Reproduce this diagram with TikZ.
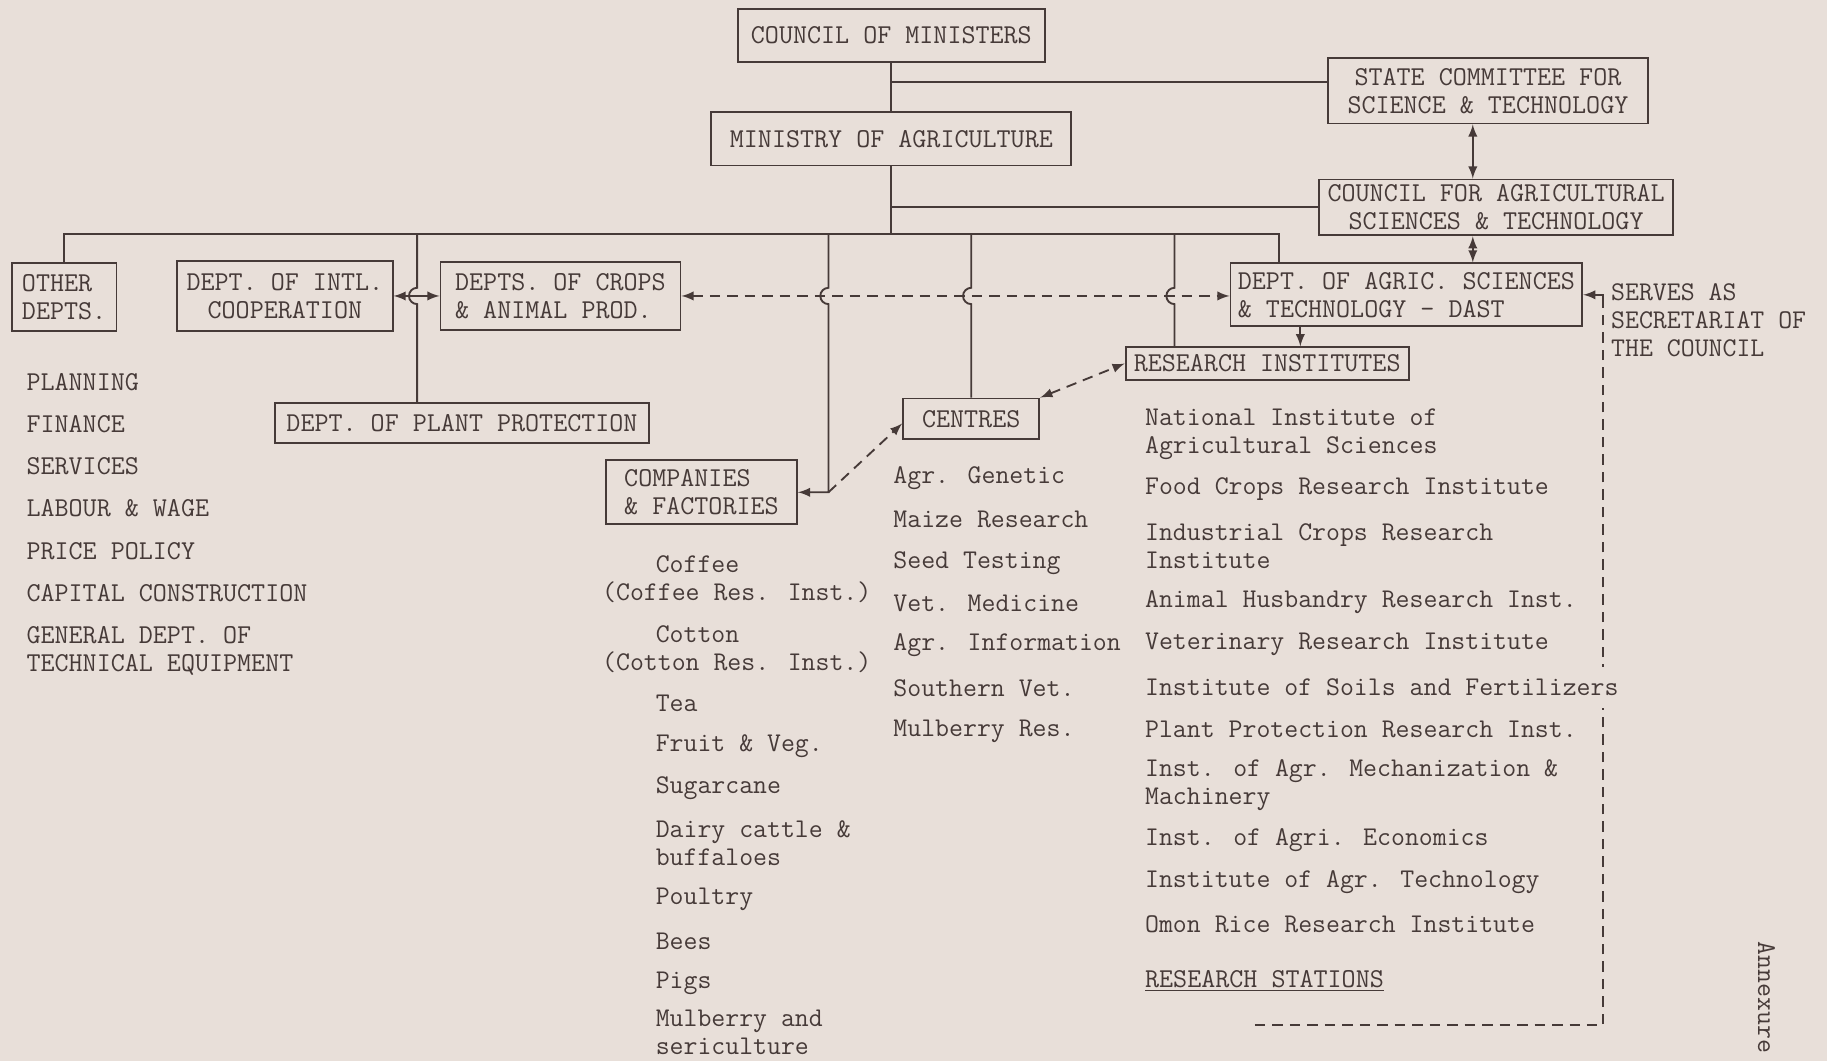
\documentclass[tikz,border=0pt]{standalone}
\usepackage{fontspec}
\definecolor{paper}{RGB}{232,223,217}
\definecolor{ink}{RGB}{70,58,56}

\begin{document}
\begin{tikzpicture}[x=0.5pt, y=-0.5pt, color=ink, line width=0.8pt]
		\tikzstyle {box} = [draw, inner xsep=2pt, inner ysep=1pt, align=center, font=\ttfamily\fontsize{11.7}{12}\selectfont]
		\tikzstyle {item} = [anchor=west, inner sep=0pt, align=left, font=\ttfamily\fontsize{11.6}{12}\selectfont]
		\tikzstyle {dept item} = [item, font=\ttfamily\fontsize{11.7}{12}\selectfont]
		\tikzstyle {link} = [dash pattern=on 4.5pt off 3pt]

		\fill[paper] (0,0) rectangle (1568,911);
		\useasboundingbox (0,0) rectangle (1568,911);

		% boxes
		\node[box, minimum width=132pt, minimum height=22.5pt] (com) at (765,30.5) {COUNCIL OF MINISTERS};
		\node[box, minimum width=137pt, minimum height=28pt] (state) at (1277,78) {STATE COMMITTEE FOR\\SCIENCE \& TECHNOLOGY};
		\node[box, minimum width=154.5pt, minimum height=23pt] (moa) at (765,119) {MINISTRY OF AGRICULTURE};
		\node[box, minimum width=152pt, minimum height=24pt] (cfa) at (1284,178) {COUNCIL FOR AGRICULTURAL\\SCIENCES \& TECHNOLOGY};
		\node[box, align=left, minimum width=45pt, minimum height=29pt] (other) at (55,255) {OTHER\\DEPTS.};
		\node[box, minimum width=92.5pt, minimum height=30pt] (intl) at (244.5,254) {DEPT. OF INTL.\\COOPERATION};
		\node[box, align=left, minimum width=103pt, minimum height=29.5pt] (crops) at (481,254) {DEPTS. OF CROPS\\\& ANIMAL PROD.};
		\node[box, align=left, minimum width=151pt, minimum height=27pt] (dast) at (1207,253) {DEPT. OF AGRIC. SCIENCES\\\& TECHNOLOGY - DAST};
		\node[box, minimum width=121.5pt, minimum height=14pt] (ri) at (1087.5,312) {RESEARCH INSTITUTES};
		\node[box, minimum width=58.5pt, minimum height=17.5pt] (centres) at (833.5,359.5) {CENTRES};
		\node[box, minimum width=160.5pt, minimum height=17pt] (dpp) at (396.5,363) {DEPT. OF PLANT PROTECTION};
		\node[box, align=left, minimum width=82pt, minimum height=27.5pt] (cf) at (602,422.5) {COMPANIES\\\& FACTORIES};

		\coordinate (jstate) at (765,70);
		\coordinate (bus) at (765,201);
		\coordinate (busE) at (1098,201);
		\coordinate (dpDrop) at (358,201);
		\coordinate (cfDrop) at (711,201);
		\coordinate (riDrop) at (1008,201);
		\coordinate (ax) at (1264,0);
		\coordinate (ax2) at (1116,0);
		\coordinate (secT) at (1376,264);
		\coordinate (secC) at (1376,880);
		\coordinate (secB) at (1077,880);

		% tree lines
		\draw (com.south) -- (moa.north);
		\draw (jstate) -- (jstate -| state.west);
		\draw (moa.south) -- (bus);
		\draw (bus |- cfa.west) -- (cfa.west);
		\draw (other.north) |- (busE) -- (busE |- dast.north);
		\draw (dpDrop) -- ++(0,46) arc[start angle=90, end angle=270, radius=3.5pt] -- (dpDrop |- dpp.north);
		\draw[-latex] (cfDrop) -- ++(0,46) arc[start angle=90, end angle=270, radius=3.5pt] |- (cf.east);
		\draw (centres.north |- bus) -- ++(0,46) arc[start angle=90, end angle=270, radius=3.5pt] -- (centres.north);
		\draw (riDrop) -- ++(0,46) arc[start angle=90, end angle=270, radius=3.5pt] -- (riDrop |- ri.north);

		% links
		\draw[latex-latex] (state.south -| ax) -- (cfa.north -| ax);
		\draw[latex-latex] (cfa.south -| ax) -- (dast.north -| ax);
		\draw[-latex] (dast.south -| ax2) -- (ri.north -| ax2);
		\draw[latex-latex] (intl.east) -- (crops.west);
		\draw[link, latex-latex] (crops.east) -- (crops.east -| dast.west);
		\draw[link, latex-latex] (centres.north east) -- (ri.west);
		\draw[link, -latex] (cf.east -| cfDrop) -- ([yshift=-2pt]centres.west);
		\draw[link] (secB) -- (secC) -- (secT);
		\draw[-latex] (secT) |- (dast.east);

		\node[item] (serves) at (1382,275) {SERVES AS\\SECRETARIAT OF\\THE COUNCIL};

		% other departments
		\node[dept item] (planning) at (22,328) {PLANNING};
		\node[dept item] (finance) at (22,364) {FINANCE};
		\node[dept item] (services) at (22,400) {SERVICES};
		\node[dept item] (labour) at (22,436) {LABOUR \& WAGE};
		\node[dept item] (price) at (22,473) {PRICE POLICY};
		\node[dept item] (capital) at (22,509) {CAPITAL CONSTRUCTION};
		\node[dept item] (equip) at (22,559) {GENERAL DEPT. OF\\TECHNICAL EQUIPMENT};

		% companies
		\node[item] (coffee) at (562,484) {Coffee};
		\node[item] (coffeeri) at (516,508) {(Coffee Res. Inst.)};
		\node[item] (cotton) at (562,544) {Cotton};
		\node[item] (cottonri) at (516,568) {(Cotton Res. Inst.)};
		\node[item] (tea) at (562,604) {Tea};
		\node[item] (fruit) at (562,640) {Fruit \& Veg.};
		\node[item] (sugar) at (562,676) {Sugarcane};
		\node[item] (dairy) at (562,724) {Dairy cattle \&\\buffaloes};
		\node[item] (poultry) at (562,772) {Poultry};
		\node[item] (bees) at (562,808) {Bees};
		\node[item] (pigs) at (562,844) {Pigs};
		\node[item] (mulberry) at (562,886) {Mulberry and\\sericulture};

		% centres
		\node[item] (genetic) at (766,410) {Agr. Genetic};
		\node[item] (maize) at (766,446) {Maize Research};
		\node[item] (seed) at (766,483) {Seed Testing};
		\node[item] (vetmed) at (766,518) {Vet. Medicine};
		\node[item] (info) at (766,554) {Agr. Information};
		\node[item] (southvet) at (766,591) {Southern Vet.};
		\node[item] (mulres) at (766,628) {Mulberry Res.};

		% research institutes
		\node[item] (nias) at (982,373) {National Institute of\\Agricultural Sciences};
		\node[item] (food) at (982,420) {Food Crops Research Institute};
		\node[item] (indus) at (982,469) {Industrial Crops Research\\Institute};
		\node[item] (animal) at (982,517) {Animal Husbandry Research Inst.};
		\node[item] (vetri) at (982,553) {Veterinary Research Institute};
		\node[item, fill=paper, inner ysep=5pt] (soils) at (982,590) {Institute of Soils and Fertilizers};
		\node[item] (plantri) at (982,626) {Plant Protection Research Inst.};
		\node[item] (mech) at (982,674) {Inst. of Agr. Mechanization \&\\Machinery};
		\node[item] (econ) at (982,721) {Inst. of Agri. Economics};
		\node[item] (tech) at (982,757) {Institute of Agr. Technology};
		\node[item] (omon) at (982,793) {Omon Rice Research Institute};
		\node[dept item] (stations) at (982,842) {\underline{RESEARCH STATIONS}};

		\node[item, anchor=center, rotate=-90] (annex) at (1516,856) {Annexure};
\end{tikzpicture}
\end{document}
